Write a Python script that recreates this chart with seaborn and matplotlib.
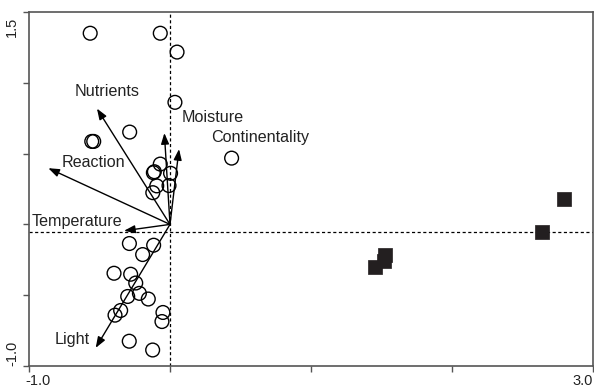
import matplotlib
matplotlib.use("Agg")
import matplotlib.pyplot as plt
import matplotlib.transforms as mtransforms
import seaborn as sns
import pandas as pd

# ---- data ----
species_x = [-0.566, -0.069, 0.050, 0.035, -0.286, -0.541, -0.555, 0.437,
             -0.069, -0.111, -0.118, 0.004, -0.094, -0.007, -0.122,
             -0.288, -0.116, -0.194, -0.397, -0.279, -0.243, -0.217, -0.300,
             -0.154, -0.350, -0.390, -0.050, -0.057, -0.289, -0.123]
species_y = [1.350, 1.350, 1.217, 0.862, 0.652, 0.586, 0.586, 0.468,
             0.426, 0.372, 0.365, 0.361, 0.272, 0.274, 0.224,
             -0.135, -0.147, -0.213, -0.345, -0.352, -0.414, -0.487, -0.509,
             -0.527, -0.608, -0.641, -0.622, -0.686, -0.825, -0.887]

site_x = [2.794, 2.638, 1.527, 1.518, 1.452]
site_y = [0.182, -0.055, -0.215, -0.260, -0.303]

env_names = ["Nutrients", "Reaction", "Moisture", "Continentality", "Temperature", "Light"]
env_x = [-0.518, -0.863, -0.040, 0.064, -0.326, -0.527]
env_y = [0.818, 0.397, 0.645, 0.532, -0.045, -0.872]

# label anchor positions for the arrow names
label_x = [-0.447, -0.768, 0.083, 0.289, -0.980, -0.820]
label_y = [0.940, 0.437, 0.752, 0.612, 0.018, -0.813]
label_ha = ["center", "left", "left", "left", "left", "left"]

origin_h = -0.055  # horizontal dashed reference line

x_ticks = [-1.0, 0.0, 1.0, 2.0, 3.0]
x_ticklabels = ["-1.0", "", "", "", "3.0"]
y_ticks = [-1.0, -0.5, 0.0, 0.5, 1.0, 1.5]
y_ticklabels = ["-1.0", "", "", "", "", "1.5"]

# ---- plotting ----
sns.set_style("white")
plt.rcParams["font.family"] = ["Liberation Sans", "DejaVu Sans"]

fig = plt.figure(figsize=(5.94, 3.88), dpi=100)
ax = fig.add_axes([29 / 594, 1 - 366 / 388, 564 / 594, 354 / 388])

ax.axvline(0, color="black", lw=0.9, ls=(0, (2.5, 2)), zorder=1)
ax.axhline(origin_h, color="black", lw=0.9, ls=(0, (2.5, 2)), zorder=1)

sp = pd.DataFrame({"x": species_x, "y": species_y})
st = pd.DataFrame({"x": site_x, "y": site_y})

sns.scatterplot(data=sp, x="x", y="y", marker="o", s=98, ax=ax,
                color="black", linewidth=1.0, zorder=3)
ax.collections[-1].set_facecolor("none")
ax.collections[-1].set_edgecolor("black")

sns.scatterplot(data=st, x="x", y="y", marker="s", s=105, ax=ax,
                color="#231f20", edgecolor="#231f20", linewidth=0.5, zorder=3)

for n, ex, ey in zip(env_names, env_x, env_y):
    ax.annotate("", xy=(ex, ey), xytext=(0, 0),
                arrowprops=dict(arrowstyle="-|>,head_length=0.65,head_width=0.24",
                                color="black", lw=1.0, shrinkA=0, shrinkB=0,
                                mutation_scale=10),
                zorder=4)

for n, lx, ly, ha in zip(env_names, label_x, label_y, label_ha):
    ax.text(lx, ly, n, ha=ha, va="center", fontsize=11.6, color="#222222", zorder=5)

ax.set_xlim(-1.0, 3.0)
ax.set_ylim(-1.0, 1.5)
ax.set_xticks(x_ticks)
ax.set_xticklabels(x_ticklabels)
ax.set_yticks(y_ticks)
ax.set_yticklabels(y_ticklabels)
ax.set_xlabel("")
ax.set_ylabel("")

ax.tick_params(axis="both", which="both", direction="out", length=4, width=1,
               color="#555555", labelsize=10.5, labelcolor="#222222",
               bottom=True, left=True)
ax.tick_params(axis="x", pad=1.5)
ax.tick_params(axis="y", pad=3)

xl = ax.get_xticklabels()
xl[0].set_horizontalalignment("left")
xl[0].set_transform(xl[0].get_transform() + mtransforms.ScaledTranslation(-4 / 100, 0, fig.dpi_scale_trans))
xl[-1].set_horizontalalignment("right")
yl = ax.get_yticklabels()
for t in yl:
    t.set_rotation(90)
    t.set_horizontalalignment("right")
yl[0].set_verticalalignment("bottom")
yl[-1].set_verticalalignment("top")
yl[-1].set_transform(yl[-1].get_transform() + mtransforms.ScaledTranslation(0, -5 / 100, fig.dpi_scale_trans))

for s in ax.spines.values():
    s.set_visible(True)
    s.set_color("#555555")
    s.set_linewidth(1.2)

fig.savefig("out.png", dpi=100)
